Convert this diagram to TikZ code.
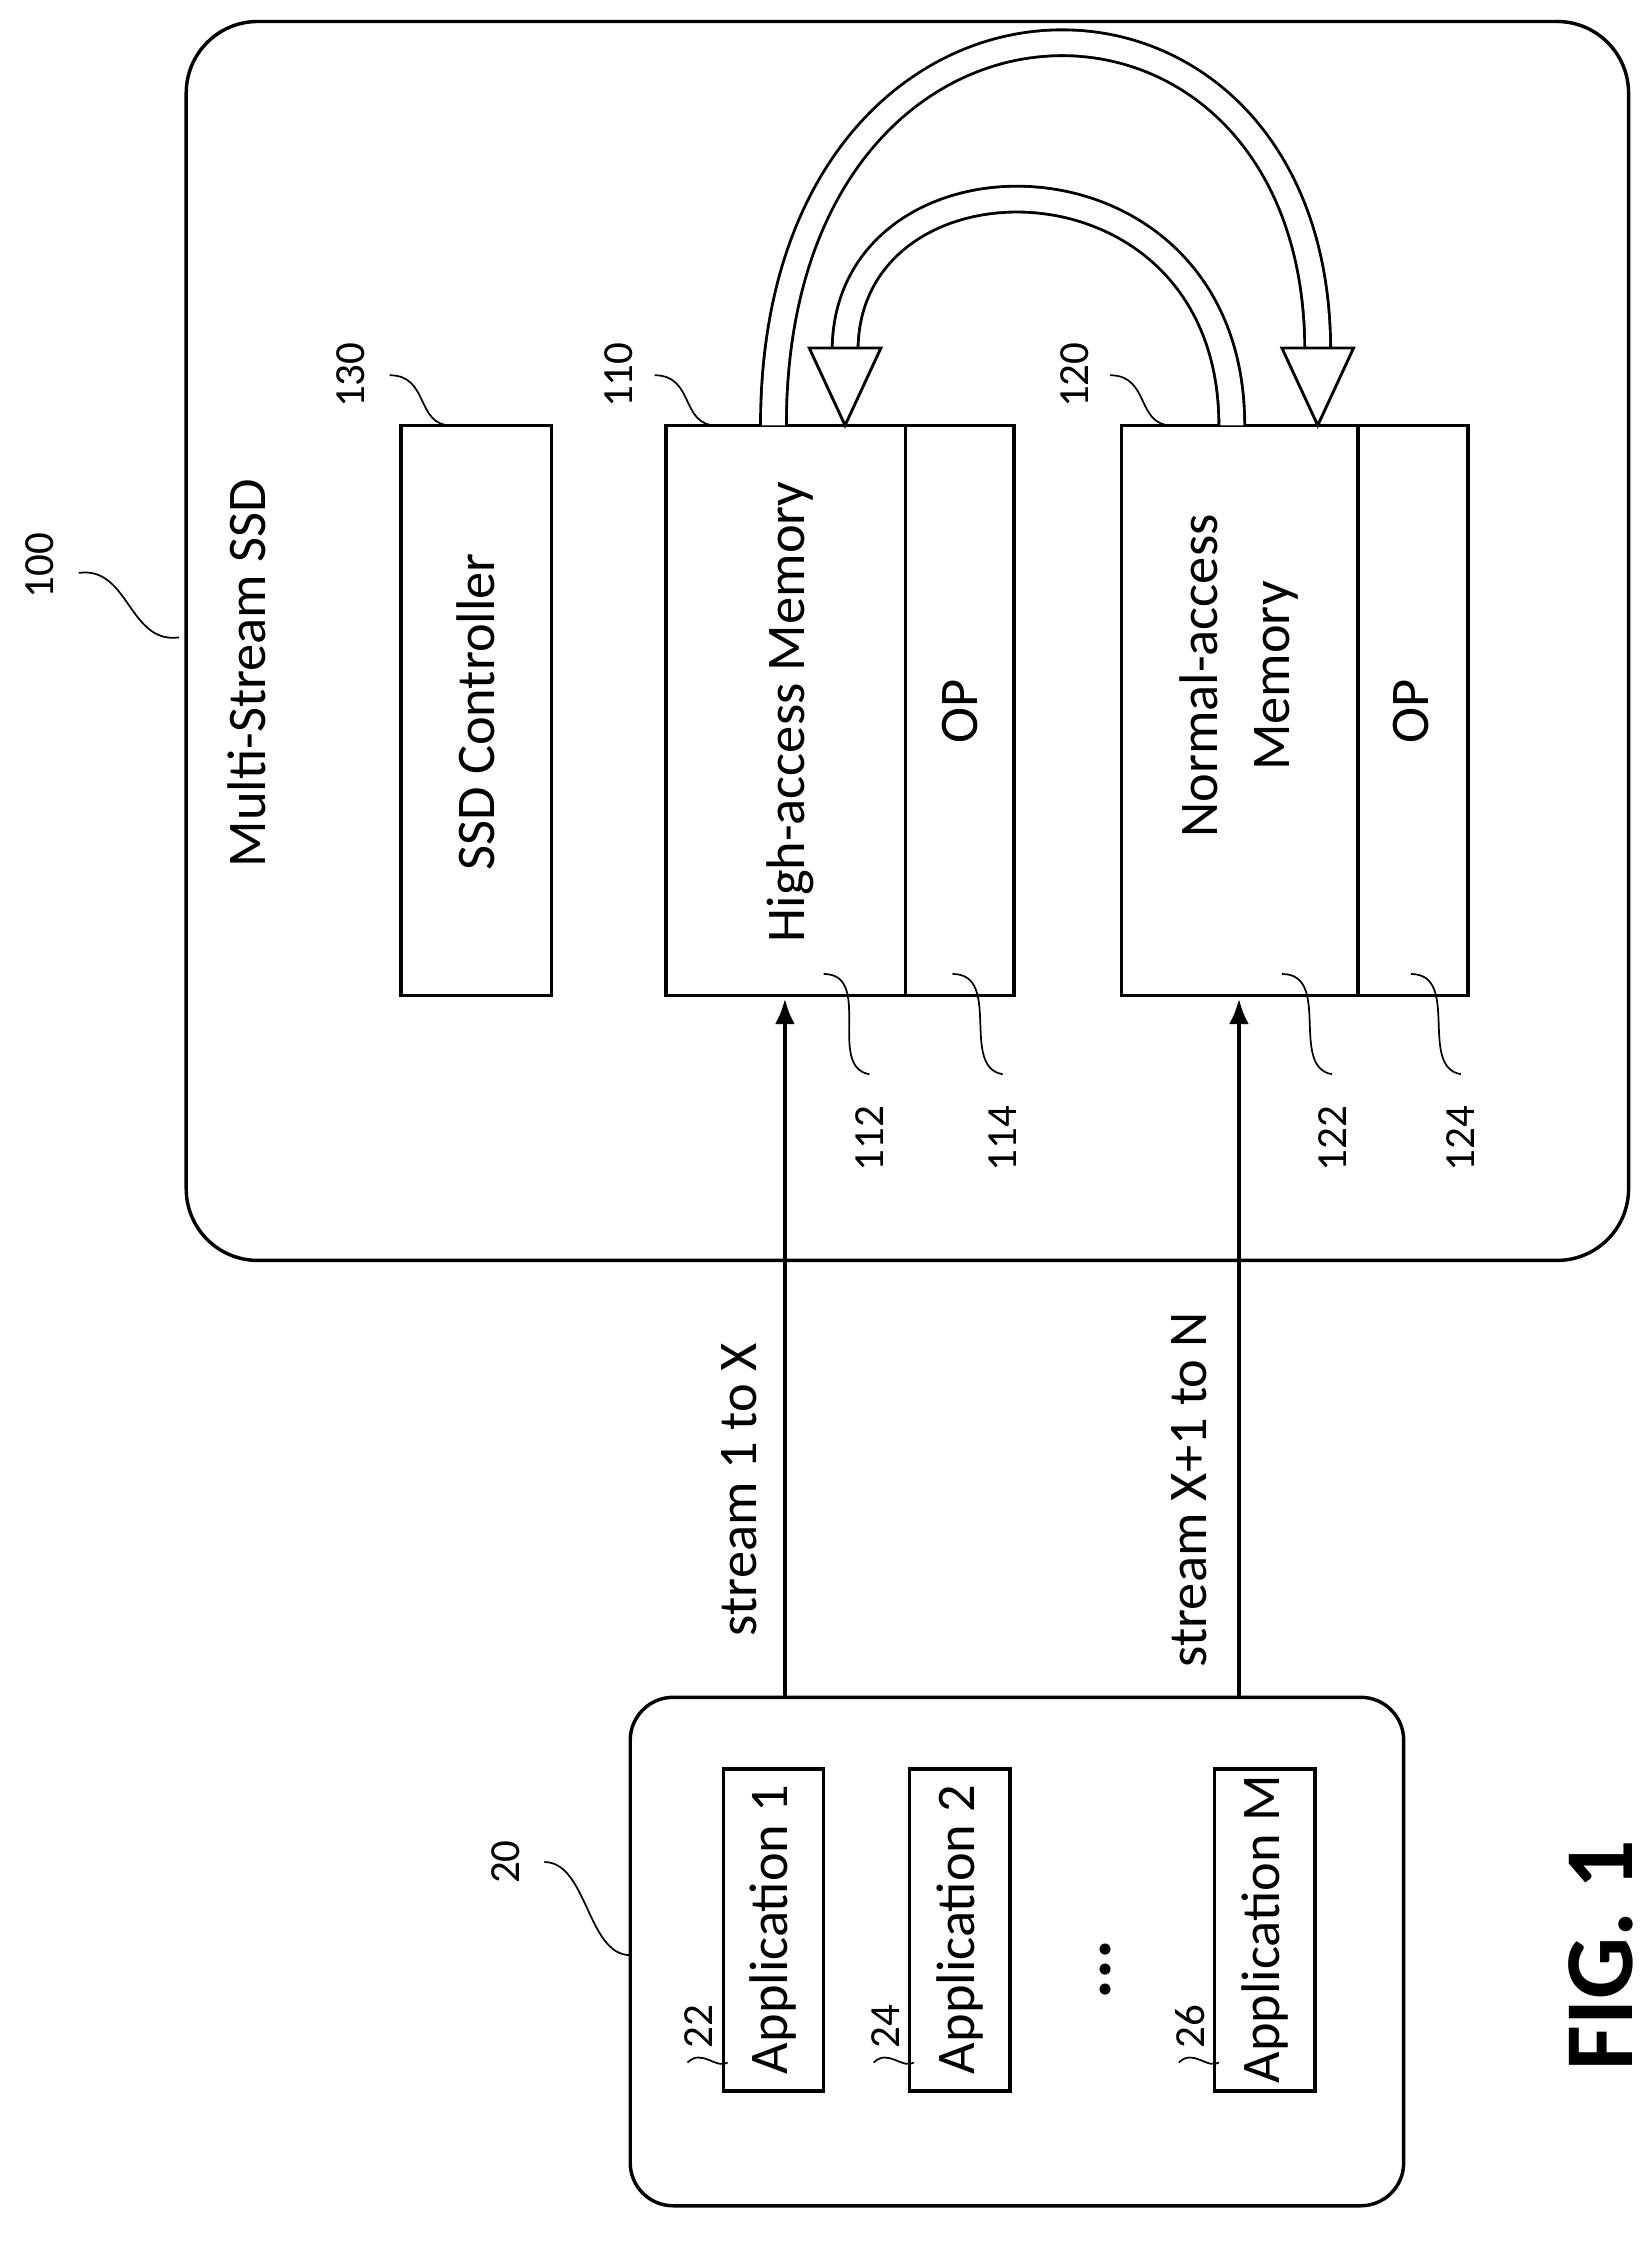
\documentclass[tikz,border=0pt]{standalone}
\usepackage{fontspec}
\setmainfont{Carlito}
\usetikzlibrary{arrows.meta}
\begin{document}
\begin{tikzpicture}[x=0.5pt,y=0.5pt,
  box/.style={draw,line width=1.2pt},
  txt/.style={rotate=90,font=\fontsize{19}{25}\selectfont,align=center},
  num/.style={rotate=90,font=\fontsize{15}{17}\selectfont},
  lead/.style={line width=0.6pt},
  arr/.style={line width=1.6pt,-{Latex[length=9pt,width=7pt]}},
  hol/.style={line width=1pt,double=white,double distance=8pt}]
\useasboundingbox (0,0) rectangle (1152,-1566);
% outer SSD
\draw[box,rounded corners=25pt] (130,-15) rectangle (1137,-880);
\node[num] (n100) at (28,-395) {100};
\draw[lead] (55,-400) .. controls (90,-395) and (90,-450) .. (125,-445);
\node[txt] (title) at (172,-470) {Multi-Stream SSD};
% controller
\draw[box] (280,-297) rectangle (385,-695);
\node[txt] (c130) at (332,-497) {SSD Controller};
\node[num] (n130) at (245,-262) {130};
\draw[lead] (272,-262) .. controls (300,-262) and (290,-297) .. (315,-297);
% 110
\draw[box] (465,-297) rectangle (708,-695);
\draw[box] (632,-297) -- (632,-695);
\node[txt] (m112) at (552,-497) {High-access Memory};
\node[txt] (m114) at (670,-497) {OP};
\node[num] (n110) at (432,-262) {110};
\draw[lead] (457,-262) .. controls (485,-262) and (475,-297) .. (500,-297);
% 120
\draw[box] (783,-297) rectangle (1025,-695);
\draw[box] (948,-297) -- (948,-695);
\node[txt] (m122) at (865,-472) {Normal-access\\Memory};
\node[txt] (m124) at (985,-497) {OP};
\node[num] (n120) at (750,-262) {120};
\draw[lead] (775,-262) .. controls (803,-262) and (793,-297) .. (818,-297);
% part labels
\foreach \a/\b/\t in {575/607/112,665/700/114,895/930/122,985/1020/124}{
  \draw[lead] (\a,-680) .. controls (\a+35,-680) and (\b-30,-745) .. (\b,-750);
  \node[num] at (\b,-795) {\t};
}
% hollow arrows
\draw[hol] (540,-297) .. controls (540,50) and (920,50) .. (920,-245);
\draw[line width=1pt,fill=white] (895,-243) -- (945,-243) -- (920,-297) -- cycle;
\draw[hol] (860,-297) .. controls (860,-96) and (590,-96) .. (590,-245);
\draw[line width=1pt,fill=white] (565,-243) -- (615,-243) -- (590,-297) -- cycle;
% host box
\draw[box,rounded corners=15pt] (440,-1185) rectangle (980,-1540);
\node[num] (n20) at (353,-1300) {20};
\draw[lead] (380,-1300) .. controls (410,-1300) and (410,-1365) .. (440,-1365);
\foreach \x/\t/\n/\nn in {505/Application 1/22/a1,635/Application 2/24/a2,848/Application M/26/aM}{
  \draw[box] (\x,-1235) rectangle (\x+70,-1460);
  \node[txt] (\nn) at (\x+35,-1347) {\t};
  \node[num] at (\x-17,-1415) {\n};
  \draw[lead] (\x-25,-1440) .. controls (\x-15,-1430) and (\x-5,-1445) .. (\x+3,-1440);
}
\node[txt,font=\fontsize{26}{28}\selectfont\bfseries] (dots) at (772,-1375) {...};
% stream arrows
\draw[arr] (548,-1185) -- (548,-697);
\draw[arr] (865,-1185) -- (865,-697);
\node[txt] (s1) at (516,-1040) {stream 1 to X};
\node[txt] (s2) at (830,-1040) {stream X+1 to N};
\node[txt,font=\fontsize{34}{36}\selectfont\bfseries] (fig) at (1118,-1365) {FIG. 1};
\end{tikzpicture}
\end{document}
